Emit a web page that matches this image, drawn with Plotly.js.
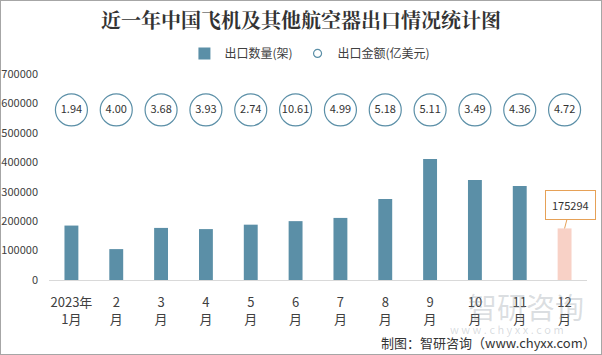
<!DOCTYPE html>
<html><head><meta charset="utf-8">
<script src="https://cdn.plot.ly/plotly-3.0.1.min.js"></script>
<style>
body{margin:0;padding:0;background:#fff;}
#wrap{position:relative;width:602px;height:355px;}
#chart{width:602px;height:355px;}
#border{position:absolute;left:0;top:0;width:602px;height:355px;box-sizing:border-box;border:1px solid #a6a6a6;pointer-events:none;}
</style></head>
<body><div id="wrap"><div id="chart"></div><div id="border"></div></div>
<script>
const categories = ['2023年<br>1月','2<br>月','3<br>月','4<br>月','5<br>月','6<br>月','7<br>月','8<br>月','9<br>月','10<br>月','11<br>月','12<br>月'];
const exportQty = [185000,105000,177000,173000,188000,200000,211000,275000,411000,340000,319000,175294];
const exportValue = [1.94,4.00,3.68,3.93,2.74,10.61,4.99,5.18,5.11,3.49,4.36,4.72];
const yTicks = [0,100000,200000,300000,400000,500000,600000,700000];

const FONT = '"Noto Sans CJK SC", "Microsoft YaHei", sans-serif';
const barBlue = '#5b8fa7';
const lastBarColor = '#f8d1c6';
const labelRowY = 578000; // vertical position of the value-label row
const barColors = exportQty.map((v,i)=> i===exportQty.length-1 ? lastBarColor : barBlue);

const traces = [
  {type:'bar', x:categories, y:exportQty, name:'出口数量(架)', width:0.31,
   marker:{color:barColors}, showlegend:false, hoverinfo:'y'},
  {type:'bar', x:[null], y:[null], name:'出口数量(架)', marker:{color:barBlue}, showlegend:true},
  {type:'scatter', mode:'markers+text', x:categories, y:exportValue.map(()=>labelRowY),
   text:exportValue.map(v=>v.toFixed(2)), textposition:'middle center',
   textfont:{family:FONT, size:11, color:'#333'},
   marker:{symbol:'circle', size:32, color:'#fff', line:{color:barBlue, width:1.2}},
   name:'出口金额(亿美元)', showlegend:false, cliponaxis:false},
  {type:'scatter', mode:'markers', x:[null], y:[null], name:'出口金额(亿美元)',
   marker:{symbol:'circle', size:8, color:'#fff', line:{color:barBlue, width:1.2}}, showlegend:true}
];

const layout = {
  width:602, height:355,
  margin:{l:49, r:15, t:74, b:75},
  paper_bgcolor:'#fff', plot_bgcolor:'#fff',
  font:{family:FONT, size:12, color:'#404040'},
  title:{text:'近一年中国飞机及其他航空器出口情况统计图', x:0.5, xanchor:'center', y:0.942, yanchor:'middle',
         font:{family:'"Noto Serif CJK SC", "Noto Sans CJK SC", serif', size:20, color:'#333', weight:'bold'}},
  showlegend:true,
  legend:{orientation:'h', x:0.485, xanchor:'center', y:1.1, yanchor:'middle',
          font:{family:FONT, size:12, color:'#404040'}, itemwidth:20, tracegroupgap:0, bgcolor:'rgba(0,0,0,0)'},
  bargap:0.69,
  xaxis:{type:'category', range:[-0.5, 11.5], autorange:false, showline:true, linecolor:'#d9d9d9', linewidth:1,
         showgrid:false, zeroline:false,
         ticks:'', ticklabelstandoff:10, tickfont:{family:FONT, size:13, color:'#404040'}, fixedrange:true},
  yaxis:{range:[0,700000], autorange:false, tickvals:yTicks, ticktext:yTicks.map(String), showgrid:false, zeroline:false,
         showline:false, ticks:'', tickfont:{family:FONT, size:11, color:'#404040'}, ticklabelstandoff:10},
  annotations:[
    {x:0.887, y:-0.127, xref:'paper', yref:'paper', xanchor:'center', yanchor:'middle', text:'智研咨询', showarrow:false,
     font:{family:FONT, size:29, color:'rgba(130,140,150,0.28)'}},
    {x:0.852, y:-0.24, xref:'paper', yref:'paper', xanchor:'center', yanchor:'middle', text:'w w w . c h y x x . c o m', showarrow:false,
     font:{family:FONT, size:11, color:'rgba(130,140,150,0.3)'}},
    {x:1.02, y:-0.305, xref:'paper', yref:'paper', xanchor:'right', yanchor:'middle', text:'制图：智研咨询（www.chyxx.com）',
     showarrow:false, font:{family:'"Noto Sans CJK SC", serif', size:13, color:'#333'}},
    {x:categories[11], y:exportQty[11], xref:'x', yref:'y', text:String(exportQty[11]),
     showarrow:true, arrowhead:0, arrowcolor:'#e6a157', arrowwidth:1, ax:6, ay:-23,
     bordercolor:'#e6a157', borderwidth:1, borderpad:6, bgcolor:'#fff',
     font:{family:FONT, size:11, color:'#333'}}
  ]
};
Plotly.newPlot('chart', traces, layout, {displayModeBar:false, staticPlot:true});
</script></body></html>
